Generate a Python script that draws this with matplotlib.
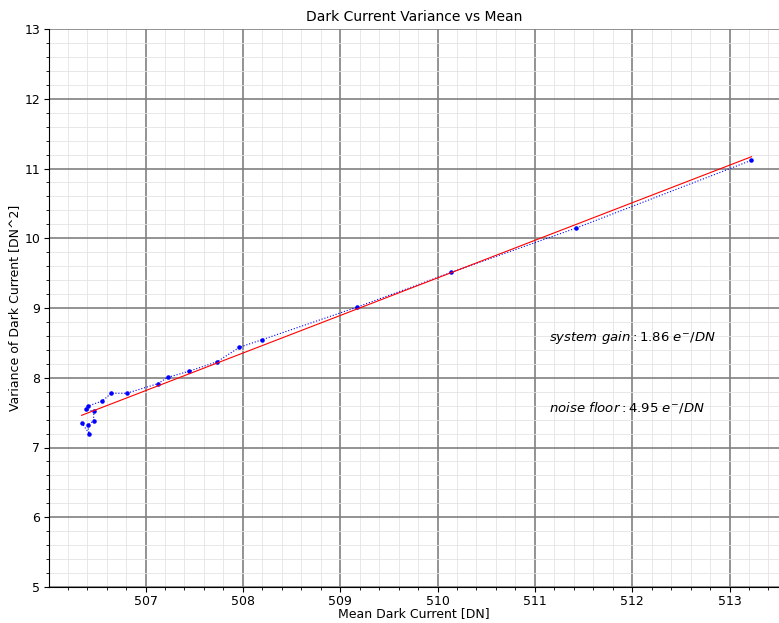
import matplotlib
matplotlib.use('Agg')
import matplotlib.pyplot as plt
from matplotlib.ticker import MultipleLocator
import numpy as np

# mean / variance of dark frames, in acquisition order
mean_dn = [506.343, 506.422, 506.405, 506.466, 506.469, 506.384, 506.412,
           506.555, 506.648, 506.805, 507.126, 507.229, 507.445, 507.736,
           507.965, 508.198, 509.177, 510.142, 511.425, 513.225]
var_dn = [7.356, 7.198, 7.318, 7.384, 7.519, 7.548, 7.595,
          7.667, 7.777, 7.777, 7.915, 8.006, 8.092, 8.230,
          8.437, 8.546, 9.014, 9.512, 10.147, 11.118]

gain_txt = r'$system\ gain: 1.86\ e^{-}/DN$'
noise_txt = r'$noise\ floor: 4.95\ e^{-}/DN$'

x = np.array(mean_dn)
y = np.array(var_dn)
p = np.polyfit(x, y, 1)
xf = np.array([x.min(), x.max()])

fig = plt.figure(figsize=(7.79, 6.23), dpi=100)
fig.patch.set_facecolor('white')
ax = fig.add_axes([48.5/779, 36/623, 730.5/779, 558/623])

ax.plot(x, y, 'b.:', markersize=4.5, linewidth=0.8)
ax.plot(xf, np.polyval(p, xf), 'r-', linewidth=0.8)

ax.set_xlim(506.003, 513.508)
ax.set_ylim(5, 13)
ax.xaxis.set_major_locator(MultipleLocator(1))
ax.xaxis.set_minor_locator(MultipleLocator(0.2))
ax.yaxis.set_major_locator(MultipleLocator(1))
ax.yaxis.set_minor_locator(MultipleLocator(0.2))
ax.grid(which='major', color='#808080', linewidth=1.2)
ax.grid(which='minor', color='#e4e4e4', linewidth=0.6)
ax.set_axisbelow(True)
ax.tick_params(axis='both', which='major', labelsize=9, length=3.5, pad=2.5)
ax.tick_params(axis='both', which='minor', length=2)
for s in ['top', 'right']:
    ax.spines[s].set_visible(False)

ax.text(511.15, 8.57, gain_txt, fontsize=9.5, va='center')
ax.text(511.15, 7.57, noise_txt, fontsize=9.5, va='center')

ax.set_title('Dark Current Variance vs Mean', fontsize=10)
ax.set_xlabel('Mean Dark Current [DN]', fontsize=9)
ax.set_ylabel('Variance of Dark Current [DN^2]', fontsize=9)
ax.xaxis.set_label_coords(0.5, -0.048)
ax.yaxis.set_label_coords(-0.046, 0.5)
ax.xaxis.label.set_va('center')
ax.yaxis.label.set_va('center')

fig.savefig('out.png', dpi=100)
